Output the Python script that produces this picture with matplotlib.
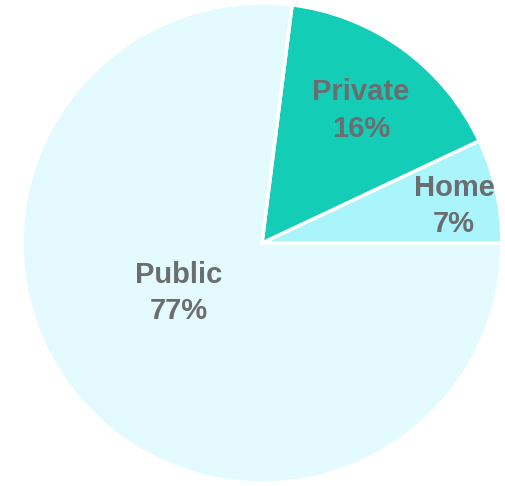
import matplotlib.pyplot as plt
import numpy as np

plt.rcParams['font.family'] = ['Liberation Sans', 'DejaVu Sans']

labels = ['Home', 'Private', 'Public']
shares = [7, 16, 77]
colors = ['#aaf4fb', '#13cdb6', '#e3fbfe']

# label placement: radius (fraction of pie) and angle offset per slice
label_r = [0.815, 0.69, 0.404]
label_shift = [-1.7, -0.7, -10.4]

fig = plt.figure(figsize=(5.05, 4.86), dpi=100)
ax = fig.add_axes([22 / 505, 3 / 486, 480 / 505, 480 / 486])

wedges, _ = ax.pie(shares, colors=colors, startangle=0, counterclock=True,
                   radius=1, wedgeprops=dict(edgecolor='white', linewidth=2.5))

for w, name, val, r, sh in zip(wedges, labels, shares, label_r, label_shift):
    ang = np.deg2rad((w.theta1 + w.theta2) / 2 + sh)
    ax.text(r * np.cos(ang), r * np.sin(ang), f'{name}\n{val}%',
            ha='center', va='center', fontsize=21, fontweight='bold',
            color='#6b6d70', linespacing=1.4)

ax.set_xlim(-1, 1)
ax.set_ylim(-1, 1)
ax.set_aspect('equal')
ax.axis('off')

fig.savefig('out.png', dpi=100, facecolor='white')
